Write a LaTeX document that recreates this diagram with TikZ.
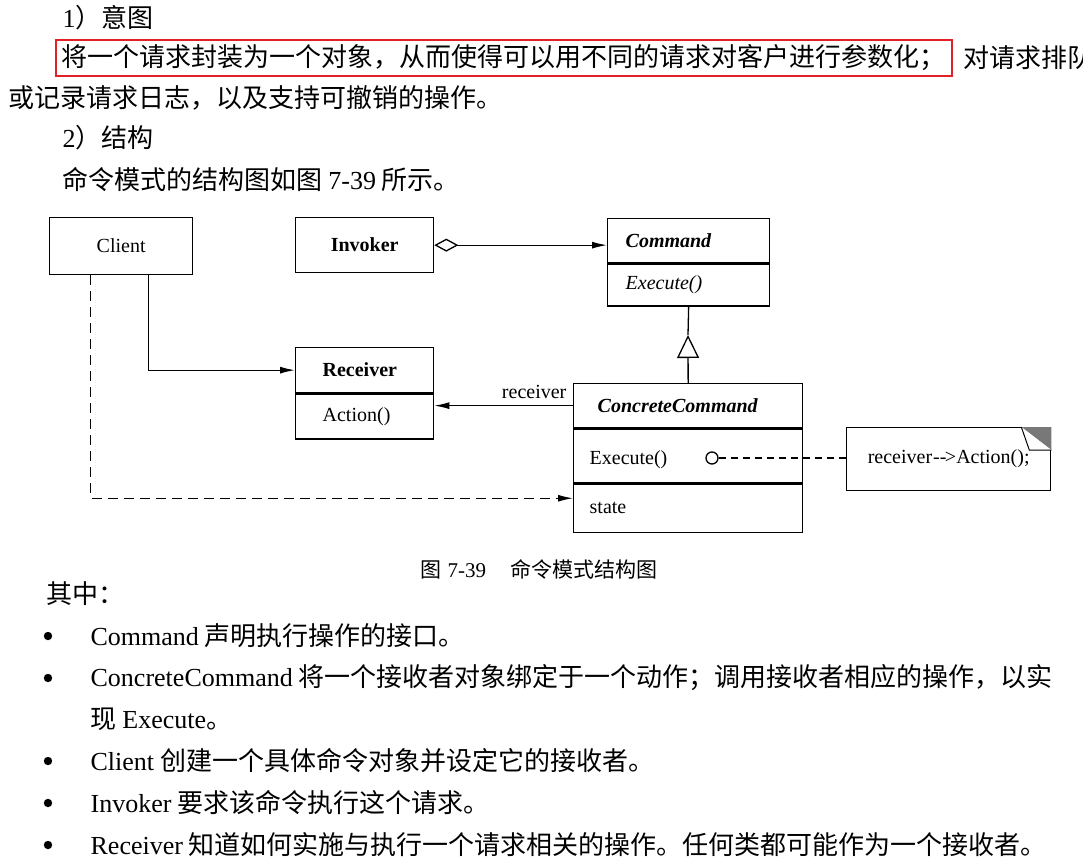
\documentclass[tikz,border=0pt]{standalone}
\usepackage{fontspec}
\setmainfont{Noto Sans CJK SC}
\newfontfamily\lat{Liberation Serif}
\usepackage{xcolor}
\usepackage{tikz}
\usetikzlibrary{positioning, arrows.meta}

\definecolor{markred}{RGB}{226,32,40}
\definecolor{earfill}{RGB}{120,120,120}

\begin{document}
\begin{tikzpicture}[
    x=1pt, y=-1pt,
    line width=1.3pt,
    body/.style={anchor=west, inner sep=0pt, font=\fontsize{26}{30}\selectfont},
    part/.style={draw, anchor=north west, inner xsep=18pt, inner ysep=0pt, align=left, font=\lat\fontsize{20}{24}\selectfont},
    tag/.style={font=\lat\fontsize{20}{24}\selectfont},
    assoc/.style={-{Latex[length=15pt, width=7pt]}},
    dep/.style={assoc, dash pattern=on 10pt off 6pt}
]
    \useasboundingbox (0,0) rectangle (1083,859);
    \clip (0,0) rectangle (1083,859);

    % Intent and structure text
    \node[body] (intent) at (62,18) {{\lat 1}）意图};
    \node[body, draw=markred, line width=1.6pt, inner xsep=6pt, minimum height=36pt] (goal) at (55,58) {将一个请求封装为一个对象，从而使得可以用不同的请求对客户进行参数化；};
    \node[body, right=10pt of goal] (goalrest) {对请求排队};
    \node[body] (goal2) at (8,98) {或记录请求日志，以及支持可撤销的操作。};
    \node[body] (struct) at (62,138) {{\lat 2}）结构};
    \node[body] (intro) at (62,180) {命令模式的结构图如图 {\lat 7-39} 所示。};

    % Classes
    \node[part, align=center, text width=107pt, minimum height=57pt] (client) at (49,217) {Client};
    \node[part, align=center, text width=102pt, minimum height=55pt] (invoker) at (295,217) {\textbf{Invoker}};
    \node[part, text width=126pt, minimum height=44pt] (cmdname) at (607,218) {\textbf{\textit{Command}}};
    \node[part, text width=126pt, minimum height=42pt] (cmdop) at (cmdname.south west) {\textit{Execute()}};
    \node[part, inner xsep=27pt, text width=84pt, minimum height=45pt] (recname) at (295,347) {\textbf{Receiver}};
    \node[part, inner xsep=27pt, text width=84pt, minimum height=45pt] (recop) at (recname.south west) {Action()};
    \node[part, inner xsep=24pt, text width=181pt, minimum height=44pt] (ccname) at (573,383) {\textbf{\textit{ConcreteCommand}}};
    \node[part, inner xsep=16pt, text width=197pt, minimum height=54pt] (ccop) at (ccname.south west) {\raisebox{-4pt}[\height][\depth]{Execute()}};
    \node[part, inner xsep=16pt, text width=197pt, minimum height=48pt] (ccstate) at (ccop.south west) {state};

    % Note
    \node[part, align=center, text width=168pt, minimum height=63pt] (note) at (846,427) {receiver\kern1pt--\kern-1.5pt>Action();};
    \fill[earfill] ([xshift=-30pt]note.north east) -- (note.north east) -- ([yshift=-23pt]note.north east) -- cycle;
    \draw[fill=white, line width=1pt] ([xshift=-30pt]note.north east) -- ([xshift=-22pt, yshift=-23pt]note.north east) -- ([yshift=-23pt]note.north east);
    \node[circle, draw, inner sep=0pt, minimum size=12pt] (hook) at (712,458) {};

    % Relations
    \draw[{Diamond[open, length=24pt, width=13pt]}-{Latex[length=15pt, width=7pt]}] (invoker.east) -- (invoker.east -| cmdname.west);
    \coordinate (gtip) at (688,335);
    \draw (cmdop.south) -- (gtip);
    \draw[-{Triangle[open, length=23pt, width=22pt]}] (ccname.north) -- (gtip);
    \draw[assoc] (ccname.west) node[tag, above left, inner sep=6pt] {receiver} -- (ccname.west -| recop.east);
    \draw[assoc] ([xshift=27.5pt]client.south) |- (recname.west);
    \draw[dep] ([xshift=-30.5pt]client.south) |- ([yshift=10pt]ccstate.west);
    \draw[dash pattern=on 7pt off 5pt] (hook) -- (hook -| note.west);

    % Caption and list
    \node[body, font=\fontsize{21}{25}\selectfont] (caption) at (420,569) {图\hspace{6pt}{\lat 7-39}\hspace{24pt}命令模式结构图};
    \node[body] (among) at (46,594) {其中：};
    \node[body] (item1) at (90,636) {{\lat Command} 声明执行操作的接口。};
    \node[body] (item2) at (90,678) {{\lat ConcreteCommand} 将一个接收者对象绑定于一个动作；调用接收者相应的操作，以实};
    \node[body] (item2b) at (90,719) {现 {\lat Execute}。};
    \node[body] (item3) at (90,761) {{\lat Client} 创建一个具体命令对象并设定它的接收者。};
    \node[body] (item4) at (90,803) {{\lat Invoker} 要求该命令执行这个请求。};
    \node[body] (item5) at (90,845) {{\lat Receiver} 知道如何实施与执行一个请求相关的操作。任何类都可能作为一个接收者。};
    \foreach \y in {636,678,761,803,845}
        \fill (48,\y) circle (4.2pt);
\end{tikzpicture}
\end{document}
